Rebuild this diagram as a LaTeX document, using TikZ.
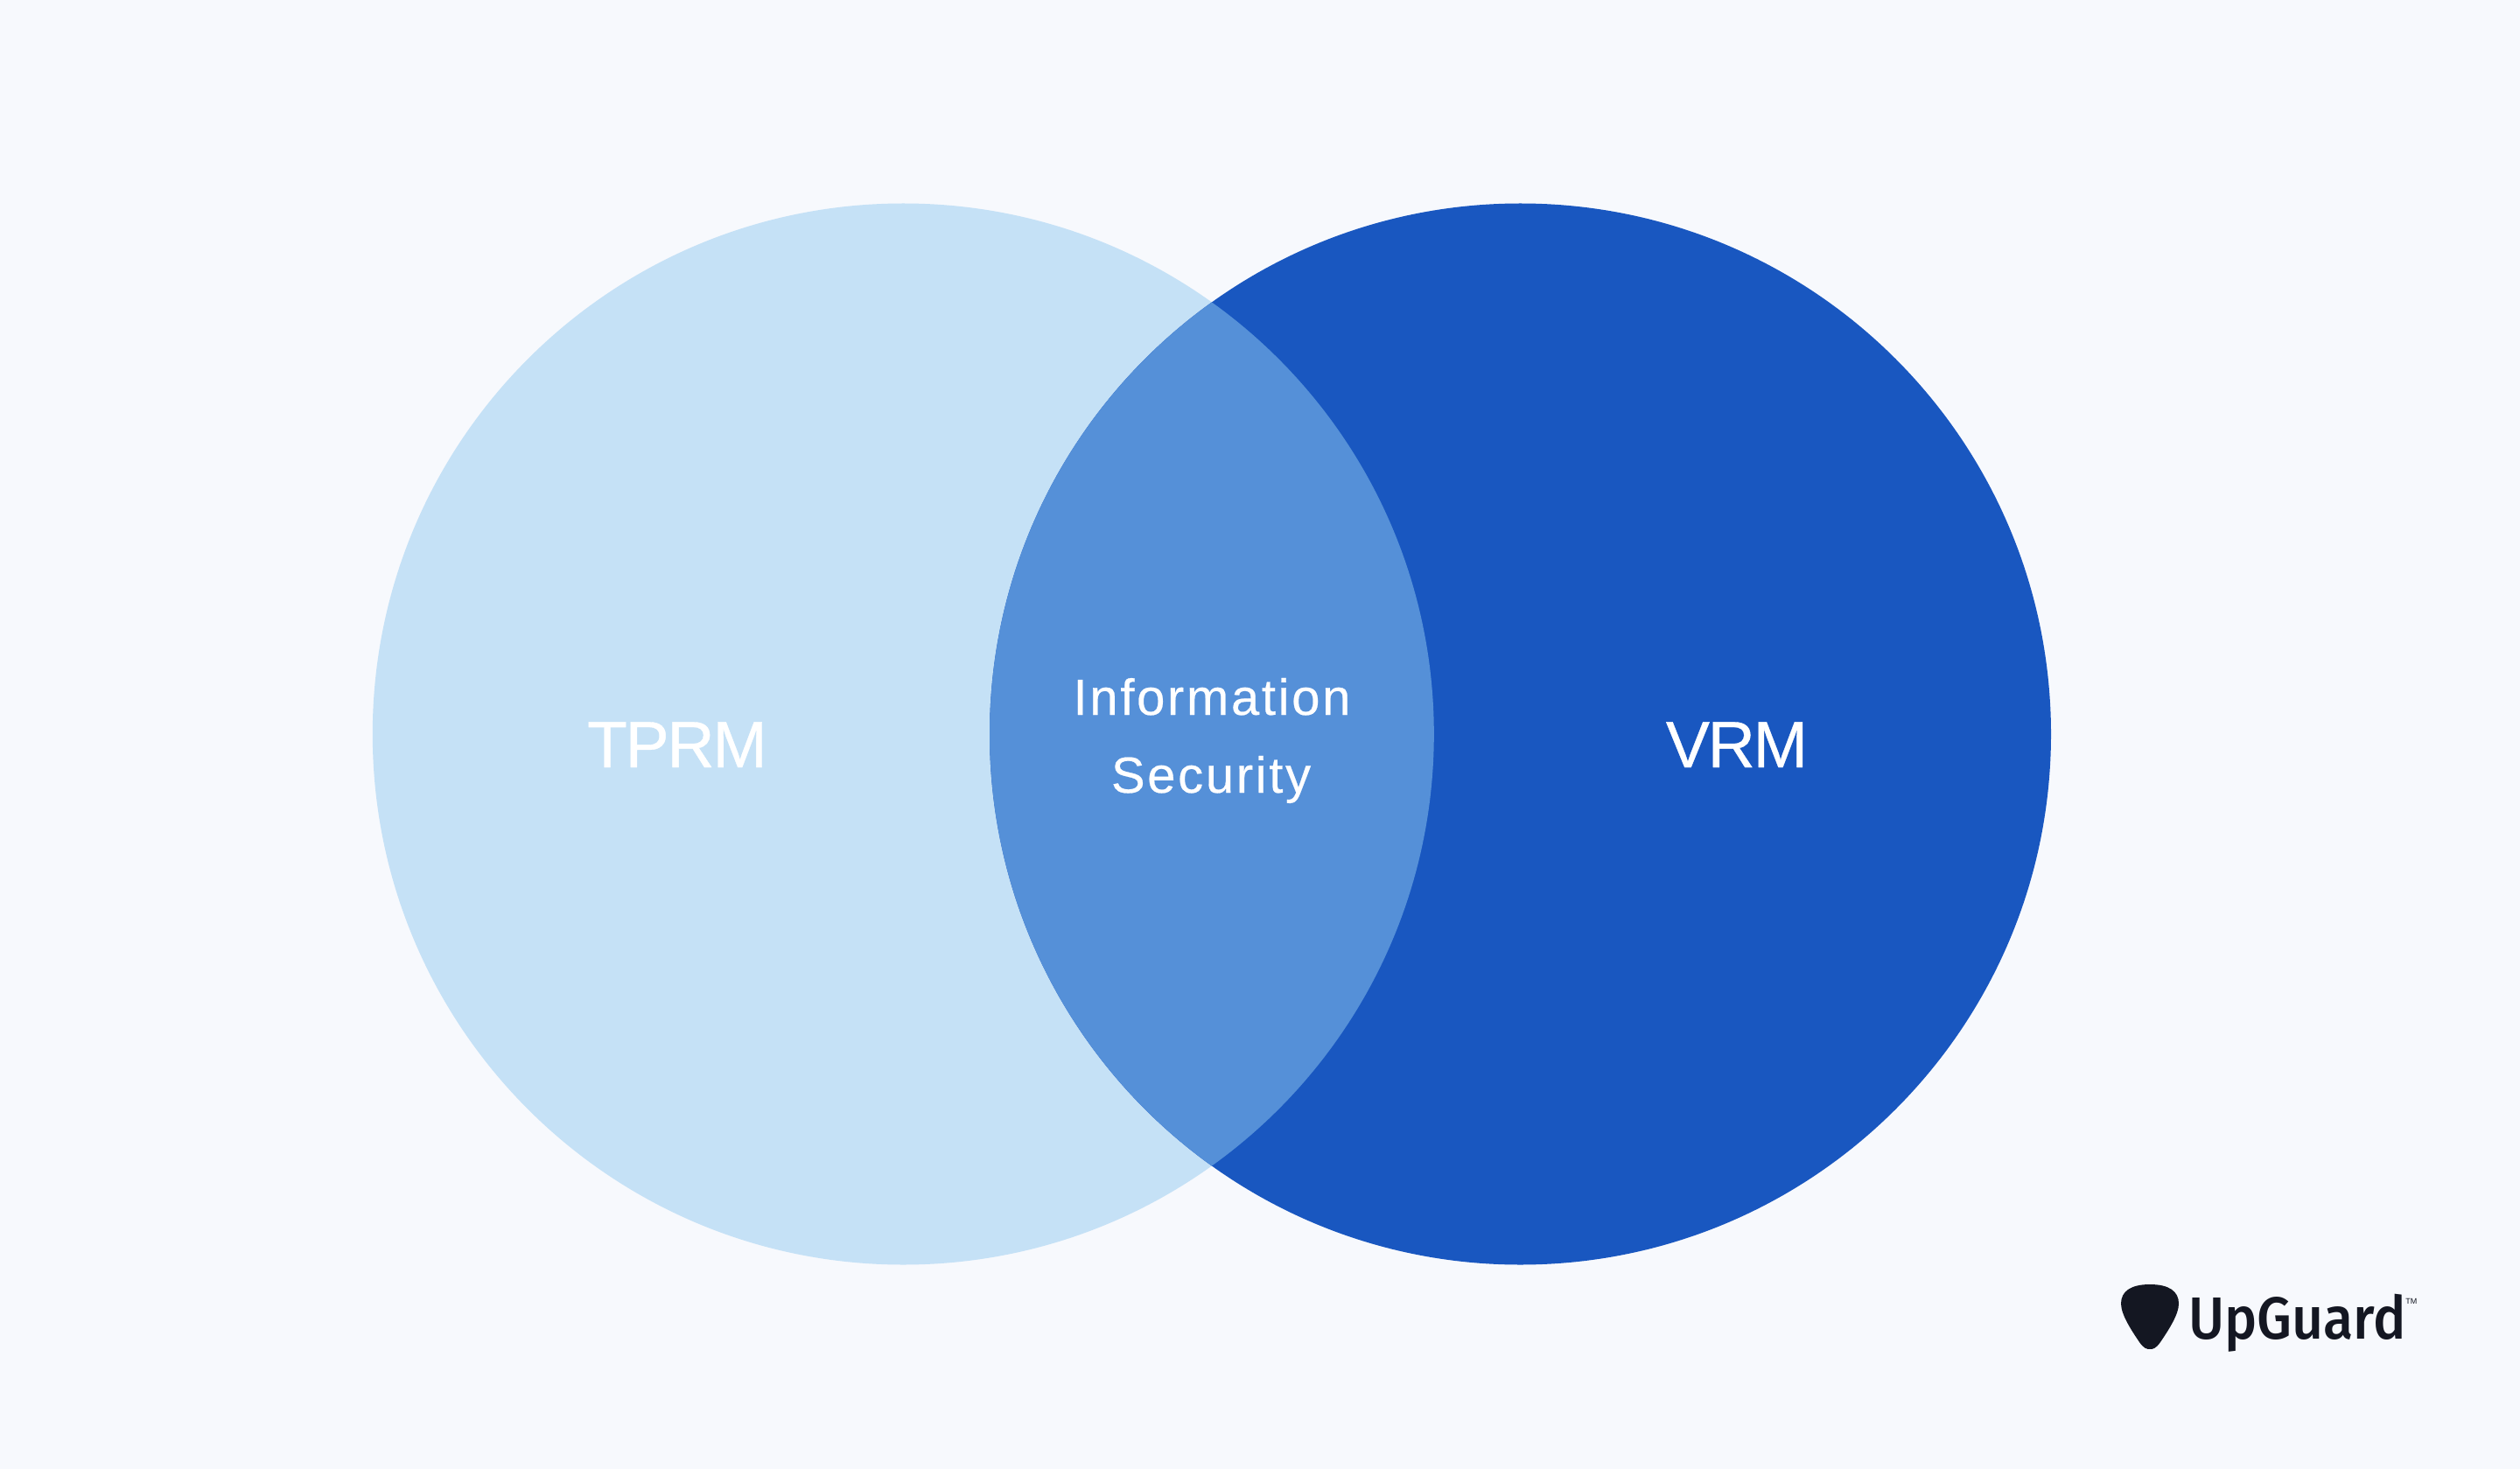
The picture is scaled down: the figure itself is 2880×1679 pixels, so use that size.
\documentclass[tikz,border=0pt]{standalone}
\usepackage{fontspec}
\setmainfont{Liberation Sans}
\newfontfamily\bigfont[LetterSpace=-3,FakeBold=0.5]{Liberation Sans}
\newfontfamily\midfont[LetterSpace=4.6,FakeBold=0.4]{Liberation Sans}
\newfontfamily\logofont[UprightFont=* Medium,FakeStretch=0.92]{Fira Sans}
\definecolor{bgc}{HTML}{F7F9FD}
\definecolor{lightc}{HTML}{C5E1F6}
\definecolor{darkc}{HTML}{1957C0}
\definecolor{midc}{HTML}{5590D8}
\definecolor{inkc}{HTML}{141722}
\tikzset{
  lbig/.style={text=white,inner sep=0pt,anchor=base,font=\bigfont\fontsize{37.5}{40}\selectfont},
  lmid/.style={text=white,inner sep=0pt,anchor=base,font=\midfont\fontsize{29}{32}\selectfont},
  logotext/.style={text=inkc,inner sep=0pt,anchor=base west,font=\logofont\fontsize{34}{36}\selectfont},
  tmtext/.style={text=inkc,inner sep=0pt,anchor=base west,font=\fontsize{4.5}{5}\selectfont}
}
\begin{document}
\begin{tikzpicture}[x=0.5pt,y=-0.5pt]
\useasboundingbox (0,0) rectangle (2880,1679);
\fill[bgc] (0,0) rectangle (2880,1679);
\fill[lightc] (1032.3,839) circle[radius=303.25pt];
\fill[darkc] (1737.5,839) circle[radius=303.25pt];
\begin{scope}
\clip (1032.3,839) circle[radius=303.25pt];
\fill[midc] (1737.5,839) circle[radius=303.25pt];
\end{scope}
\node[lbig] (tprm) at (774,877) {TPRM};
\node[lbig] (vrm) at (1985,877) {VRM};
\node[lmid] (info) at (1385,817) {Information};
\node[lmid] (sec) at (1384,906) {Security};
\fill[inkc] (2457,1468) .. controls (2435,1468) and (2424,1476) .. (2424,1490)
  .. controls (2424,1503) and (2437,1522) .. (2445,1534)
  .. controls (2450,1541) and (2453,1542) .. (2457,1542)
  .. controls (2461,1542) and (2464,1541) .. (2469,1534)
  .. controls (2477,1522) and (2490,1503) .. (2490,1490)
  .. controls (2490,1476) and (2479,1468) .. (2457,1468) -- cycle;
\node[logotext] (logo) at (2501,1530) {UpGuard};
\node[tmtext] (tm) at (2749,1490) {TM};
\end{tikzpicture}
\end{document}
